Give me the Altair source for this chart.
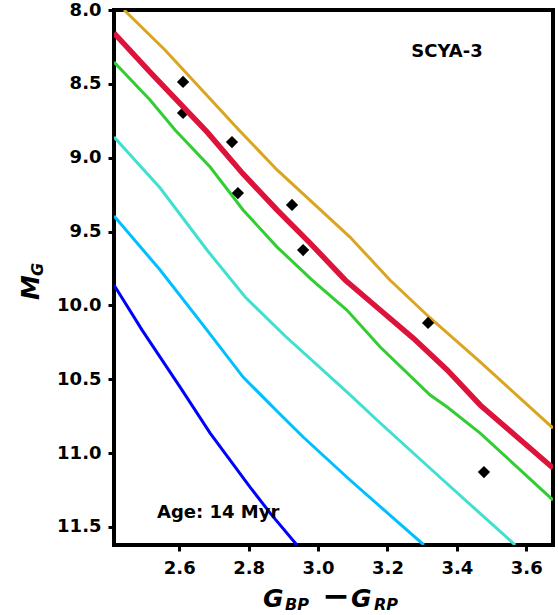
import altair as alt
import pandas as pd

# Isochrone tracks: colour index G_BP - G_RP and absolute magnitude M_G
orange_c = [2.441, 2.559, 2.772, 2.882, 3.092, 3.207, 3.323, 3.467, 3.677]
orange_m = [8.000, 8.271, 8.812, 9.083, 9.537, 9.828, 10.085, 10.383, 10.830]

crimson_c = [2.412, 2.516, 2.680, 2.784, 2.882, 2.977, 3.078, 3.179, 3.274, 3.372, 3.467, 3.677]
crimson_m = [8.156, 8.420, 8.825, 9.110, 9.354, 9.578, 9.828, 10.031, 10.221, 10.437, 10.674, 11.101]

green_c = [2.412, 2.516, 2.588, 2.689, 2.784, 2.882, 2.983, 3.083, 3.179, 3.323, 3.372, 3.467, 3.677]
green_m = [8.352, 8.609, 8.812, 9.063, 9.354, 9.605, 9.828, 10.031, 10.282, 10.607, 10.688, 10.864, 11.318]

turq_c = [2.412, 2.545, 2.680, 2.790, 2.905, 3.083, 3.179, 3.360, 3.568]
turq_m = [8.860, 9.205, 9.625, 9.943, 10.207, 10.586, 10.796, 11.182, 11.622]

sky_c = [2.412, 2.545, 2.680, 2.784, 2.890, 2.957, 3.092, 3.305]
sky_m = [9.395, 9.760, 10.167, 10.485, 10.735, 10.891, 11.182, 11.622]

blue_c = [2.412, 2.493, 2.602, 2.689, 2.804, 2.862, 2.939]
blue_m = [9.862, 10.167, 10.552, 10.864, 11.230, 11.406, 11.622]

# Cluster members
star_c = [2.611, 2.611, 2.752, 2.769, 2.925, 2.957, 3.317, 3.478]
star_m = [8.487, 8.697, 8.894, 9.239, 9.320, 9.625, 10.119, 11.128]

x_ticks = [2.6, 2.8, 3.0, 3.2, 3.4, 3.6]
y_ticks = [8.0, 8.5, 9.0, 9.5, 10.0, 10.5, 11.0, 11.5]
x_domain = [2.412, 3.677]
y_domain = [8.0, 11.622]

W, H = 439, 535
FONT = "DejaVu Sans"

tracks = [
    ("goldenrod", orange_c, orange_m),
    ("limegreen", green_c, green_m),
    ("turquoise", turq_c, turq_m),
    ("deepskyblue", sky_c, sky_m),
    ("blue", blue_c, blue_m),
]

rows = []
for name, cs, ms in tracks:
    for i, (c, m) in enumerate(zip(cs, ms)):
        rows.append({"track": name, "i": i, "c": c, "m": m})
iso = pd.DataFrame(rows)
best = pd.DataFrame({"i": range(len(crimson_c)), "c": crimson_c, "m": crimson_m})
stars = pd.DataFrame({"c": star_c, "m": star_m})

xs = alt.Scale(domain=x_domain, nice=False, zero=False)
ys = alt.Scale(domain=y_domain, nice=False, zero=False, reverse=True)

x_enc = alt.X("c:Q", scale=xs, title=None,
              axis=alt.Axis(values=x_ticks, format=".1f"))
y_enc = alt.Y("m:Q", scale=ys, title=None,
              axis=alt.Axis(values=y_ticks, format=".1f"))

names = [t[0] for t in tracks]
iso_layer = alt.Chart(iso).mark_line(strokeWidth=3, clip=True).encode(
    x=x_enc, y=y_enc,
    color=alt.Color("track:N", scale=alt.Scale(domain=names, range=names), legend=None),
    detail="track:N",
    order="i:Q",
)

star_layer = alt.Chart(stars).mark_point(
    shape="diamond", filled=True, size=150, color="black", opacity=1, clip=True
).encode(x=x_enc, y=y_enc)

best_layer = alt.Chart(best).mark_line(strokeWidth=5.5, color="crimson", clip=True).encode(
    x=x_enc, y=y_enc, order="i:Q"
)


def label(text, x, y, size, italic=False, align="left", angle=0, dx=0, dy=0):
    return alt.Chart(pd.DataFrame({"t": [text]})).mark_text(
        font=FONT, fontWeight="bold", fontStyle="italic" if italic else "normal",
        fontSize=size, align=align, baseline="alphabetic", angle=angle,
        dx=dx, dy=dy, color="black",
    ).encode(text="t:N", x=alt.value(x), y=alt.value(y))


texts = [
    label("SCYA-3", 333, 47, 18, align="center"),
    label("Age: 14 Myr", 43, 508, 18),
    # x-axis title: G_BP - G_RP
    label("G", 149, 597, 25, italic=True),
    label("BP", 171, 600, 16, italic=True),
    label("\u2212", 222, 597, 33, align="center"),
    label("G", 237, 597, 25, italic=True),
    label("RP", 260, 600, 16, italic=True),
    # y-axis title: M_G
    label("M", -75, 290, 25, italic=True, angle=270),
    label("G", -75, 290, 16, italic=True, angle=270, dx=24, dy=4),
]

chart = alt.layer(iso_layer, star_layer, best_layer, *texts).properties(
    width=W, height=H,
    autosize=alt.AutoSizeParams(type="none"),
    padding={"left": 114, "top": 10, "right": 5, "bottom": 70},
).configure_view(
    stroke="black", strokeWidth=4
).configure_axis(
    grid=False,
    domain=False,
    labelFont=FONT, labelFontWeight="bold", labelFontSize=18, labelColor="black",
    tickColor="black", tickWidth=3, tickSize=6,
).configure_axisX(labelPadding=8).configure_axisY(labelPadding=7)

chart.save("out.html", embed_options={"renderer": "svg", "actions": False})
